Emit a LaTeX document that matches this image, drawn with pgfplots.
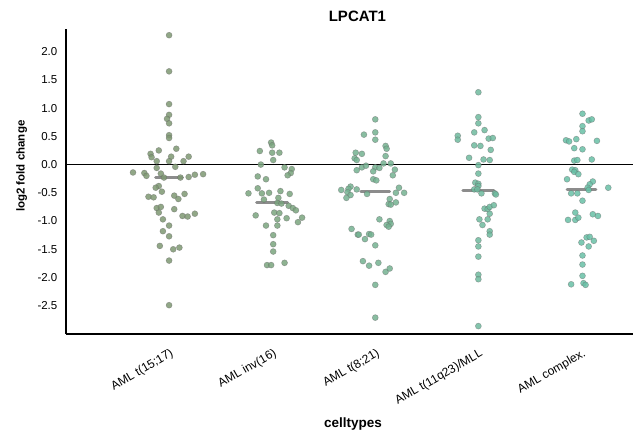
\documentclass[border=0pt]{standalone}
\usepackage{fontspec}
\setmainfont{Liberation Sans}
\usepackage{pgfplots}
\usepackage{pgfplotstable}
\pgfplotsset{compat=1.18}

\definecolor{cA}{RGB}{126,152,114}
\definecolor{cB}{RGB}{122,164,126}
\definecolor{cC}{RGB}{116,178,145}
\definecolor{cD}{RGB}{110,186,158}
\definecolor{cE}{RGB}{104,192,166}

\pgfplotstableread{
x y
1.00 2.29
1.00 1.65
1.00 1.07
1.00 0.88
0.98 0.81
1.00 0.73
1.00 0.52
1.00 0.47
0.90 0.25
1.07 0.28
0.82 0.19
0.83 0.13
1.02 0.14
1.19 0.14
0.88 0.06
1.00 0.06
1.14 0.06
1.06 -0.04
0.88 -0.06
0.65 -0.14
0.76 -0.15
0.78 -0.20
0.92 -0.16
0.95 -0.23
1.11 -0.23
1.19 -0.22
1.25 -0.18
1.33 -0.17
0.90 -0.38
0.87 -0.41
0.93 -0.48
0.80 -0.57
0.85 -0.58
1.05 -0.55
1.09 -0.61
1.15 -0.52
0.88 -0.77
0.92 -0.75
0.90 -0.85
1.05 -0.79
1.13 -0.91
1.18 -0.92
1.25 -0.87
0.94 -0.97
1.00 -1.08
0.94 -1.18
1.00 -1.27
0.91 -1.44
1.04 -1.50
1.10 -1.47
1.00 -1.70
1.00 -2.49
}\gA

\pgfplotstableread{
x y
1.99 0.39
2.00 0.34
1.88 0.24
2.00 0.21
2.07 0.21
2.01 0.08
1.89 0.00
2.12 -0.05
2.19 -0.08
2.18 -0.15
2.15 -0.19
1.86 -0.21
1.94 -0.26
1.86 -0.42
1.77 -0.51
1.90 -0.51
1.97 -0.50
2.08 -0.47
2.17 -0.52
1.92 -0.62
2.06 -0.59
2.05 -0.68
2.09 -0.69
2.16 -0.73
2.20 -0.77
2.23 -0.81
2.02 -0.85
2.07 -0.86
1.84 -0.90
2.29 -0.94
2.05 -0.97
2.14 -0.95
2.25 -1.02
1.94 -1.08
2.05 -1.08
2.01 -1.25
2.01 -1.41
2.01 -1.54
1.95 -1.78
1.99 -1.78
2.12 -1.74
}\gB

\pgfplotstableread{
x y
3.00 0.80
2.89 0.53
3.00 0.57
3.00 0.44
3.10 0.33
3.11 0.28
2.81 0.21
2.87 0.19
3.10 0.15
2.80 0.11
2.82 0.08
3.08 0.02
3.15 0.02
2.87 -0.05
2.91 -0.02
2.82 -0.10
3.00 -0.05
3.04 -0.06
2.98 -0.12
3.19 -0.09
3.17 -0.19
2.98 -0.26
3.01 -0.28
2.67 -0.45
2.76 -0.39
2.74 -0.43
2.82 -0.44
2.73 -0.49
2.76 -0.54
2.72 -0.59
2.92 -0.52
3.23 -0.41
3.20 -0.50
3.28 -0.50
3.14 -0.61
3.13 -0.70
3.15 -0.71
3.20 -0.67
3.04 -0.97
3.14 -1.00
3.15 -1.05
3.11 -1.07
3.13 -1.10
2.77 -1.14
2.83 -1.24
2.84 -1.24
2.90 -1.32
2.94 -1.23
2.96 -1.24
3.00 -1.43
2.88 -1.71
2.94 -1.79
3.03 -1.74
3.10 -1.90
3.14 -1.84
3.00 -2.13
3.00 -2.71
}\gC

\pgfplotstableread{
x y
4.00 1.28
4.00 0.84
4.00 0.73
3.80 0.51
3.80 0.44
3.96 0.57
4.06 0.61
4.10 0.46
4.14 0.47
3.96 0.34
4.02 0.33
4.12 0.26
3.91 0.12
4.05 0.09
4.11 0.08
4.00 -0.01
4.00 -0.16
3.97 -0.32
4.00 -0.34
4.00 -0.38
3.96 -0.44
3.99 -0.44
4.03 -0.51
4.16 -0.51
4.17 -0.53
4.06 -0.78
4.09 -0.79
4.11 -0.75
4.15 -0.72
4.11 -0.87
4.01 -0.97
4.04 -1.07
4.09 -0.97
4.11 -1.18
4.11 -1.24
4.00 -1.34
4.00 -1.45
4.00 -1.63
4.00 -1.95
4.00 -2.03
4.00 -2.86
}\gD

\pgfplotstableread{
x y
5.01 0.90
5.07 0.78
5.10 0.80
5.01 0.68
5.01 0.59
4.85 0.43
4.88 0.41
4.95 0.45
5.15 0.42
4.93 0.29
5.01 0.27
4.93 0.07
4.96 0.08
5.10 0.09
4.91 -0.09
4.94 -0.10
4.93 -0.13
4.97 -0.17
4.86 -0.26
5.11 -0.30
5.08 -0.35
5.06 -0.41
5.07 -0.45
5.26 -0.41
4.90 -0.51
4.96 -0.51
5.01 -0.64
4.94 -0.85
4.87 -0.98
4.94 -0.98
4.97 -0.94
5.11 -0.88
5.16 -0.91
5.05 -1.29
5.08 -1.28
5.12 -1.35
5.00 -1.38
5.07 -1.45
5.01 -1.61
5.01 -1.77
5.01 -1.97
4.90 -2.12
5.02 -2.10
5.04 -2.13
}\gE

\begin{document}
\begin{tikzpicture}
\begin{axis}[
  scale only axis,
  width=567pt, height=305pt,
  xmin=0, xmax=5.5, ymin=-3, ymax=2.4,
  axis x line=bottom, axis y line=left,
  axis line style={line width=1.6pt, -},
  xtick={1,2,3,4,5},
  xticklabels={AML t(15;17), AML inv(16), AML t(8;21), AML t(11q23)/MLL, AML complex.},
  x tick label style={rotate=30, anchor=north east, font=\fontsize{12}{14}\selectfont, xshift=-2pt, yshift=-7pt},
  major x tick style={draw=none},
  extra x ticks={0,5.5},
  extra x tick labels={},
  extra x tick style={major tick length=5pt, tick style={line width=1.6pt, black}},
  ytick={-2.5,-2.0,-1.5,-1.0,-0.5,0,0.5,1.0,1.5,2.0},
  y tick label style={font=\fontsize{11.5}{13}\selectfont, xshift=-3pt},
  /pgf/number format/fixed,
  /pgf/number format/fixed zerofill,
  /pgf/number format/precision=1,
  /pgf/number format/assume math mode=true,
  major y tick style={draw=none},
  extra y ticks={-3,2.4},
  extra y tick labels={},
  extra y tick style={major tick length=5pt, tick style={line width=1.6pt, black}},
  title={\bfseries LPCAT1},
  title style={at={(axis description cs:0.514,1.022)}, anchor=center, font=\fontsize{15}{17}\selectfont},
  xlabel={\bfseries celltypes},
  xlabel style={at={(axis description cs:0.506,-0.327)}, anchor=south, font=\fontsize{13.5}{15}\selectfont},
  ylabel={\bfseries log2 fold change},
  ylabel style={at={(axis description cs:-0.078,0.55)}, anchor=center, font=\fontsize{11.5}{13}\selectfont},
  clip=false,
]
\addplot[only marks, mark=*, mark size=3pt, mark options={fill=cA, fill opacity=0.85, draw=black!60, draw opacity=0.5, line width=0.5pt}] table {\gA};
\addplot[only marks, mark=*, mark size=3pt, mark options={fill=cB, fill opacity=0.85, draw=black!60, draw opacity=0.5, line width=0.5pt}] table {\gB};
\addplot[only marks, mark=*, mark size=3pt, mark options={fill=cC, fill opacity=0.85, draw=black!60, draw opacity=0.5, line width=0.5pt}] table {\gC};
\addplot[only marks, mark=*, mark size=3pt, mark options={fill=cD, fill opacity=0.85, draw=black!60, draw opacity=0.5, line width=0.5pt}] table {\gD};
\addplot[only marks, mark=*, mark size=3pt, mark options={fill=cE, fill opacity=0.85, draw=black!60, draw opacity=0.5, line width=0.5pt}] table {\gE};
\addplot[black!75, opacity=0.6, line width=3pt, line cap=round] coordinates {(0.87,-0.23) (1.13,-0.23)};
\addplot[black!75, opacity=0.6, line width=3pt, line cap=round] coordinates {(1.85,-0.68) (2.15,-0.68)};
\addplot[black!75, opacity=0.6, line width=3pt, line cap=round] coordinates {(2.86,-0.47) (3.14,-0.47)};
\addplot[black!75, opacity=0.6, line width=3pt, line cap=round] coordinates {(3.85,-0.46) (4.15,-0.46)};
\addplot[black!75, opacity=0.6, line width=3pt, line cap=round] coordinates {(4.86,-0.44) (5.14,-0.44)};
\addplot[black, line width=1.4pt] coordinates {(0,0) (5.5,0)};
\coordinate (SW) at (rel axis cs:0,0);
\coordinate (NE) at (rel axis cs:1,1);
\end{axis}
\pgfresetboundingbox
\path ([xshift=-66pt,yshift=-102pt]SW) rectangle ([xshift=2pt,yshift=29pt]NE);
\end{tikzpicture}
\end{document}
